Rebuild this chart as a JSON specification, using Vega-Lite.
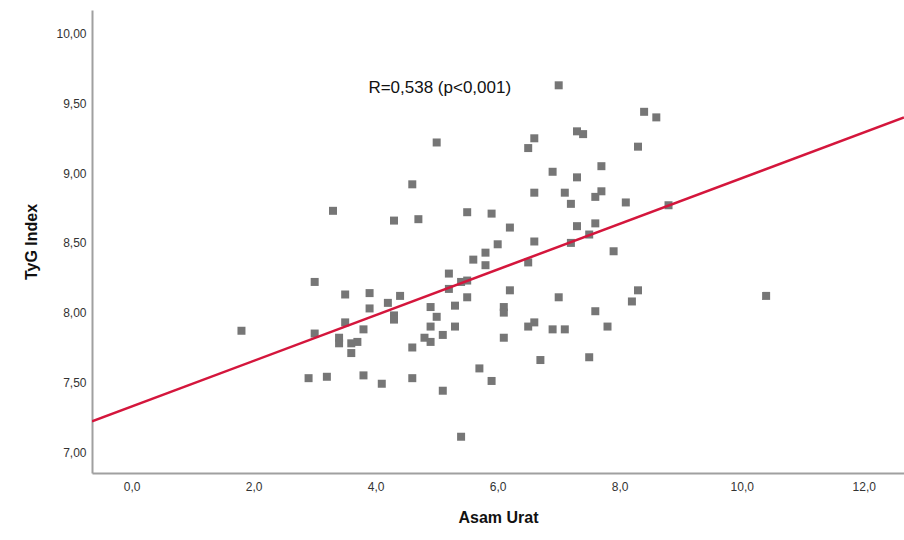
{
  "$schema": "https://vega.github.io/schema/vega-lite/v6.json",
  "autosize": {"type": "none"},
  "padding": {"left": 92, "top": 10, "right": 0, "bottom": 67},
  "width": 812,
  "height": 463,
  "background": "white",
  "config": {
    "font": "Liberation Sans",
    "view": {"stroke": null},
    "axis": {"grid": false, "ticks": false, "domainColor": "#a0a0a0", "domainWidth": 2, "labelColor": "#333333", "labelFontSize": 12, "titleFontSize": 16, "titleFontWeight": "bold", "titleColor": "#111111"}
  },
  "datasets": {
    "pts": [
      {"x": 1.8, "y": 7.87}, {"x": 2.9, "y": 7.53}, {"x": 3.2, "y": 7.54}, {"x": 3.0, "y": 8.22}, {"x": 3.0, "y": 7.85},
      {"x": 3.3, "y": 8.73}, {"x": 3.4, "y": 7.82}, {"x": 3.4, "y": 7.78}, {"x": 3.5, "y": 8.13}, {"x": 3.5, "y": 7.93},
      {"x": 3.6, "y": 7.78}, {"x": 3.7, "y": 7.79}, {"x": 3.6, "y": 7.71}, {"x": 3.8, "y": 7.88}, {"x": 3.8, "y": 7.55},
      {"x": 3.9, "y": 8.14}, {"x": 3.9, "y": 8.03}, {"x": 4.1, "y": 7.49}, {"x": 4.2, "y": 8.07}, {"x": 4.3, "y": 7.98},
      {"x": 4.3, "y": 7.95}, {"x": 4.3, "y": 8.66}, {"x": 4.4, "y": 8.12}, {"x": 4.6, "y": 8.92}, {"x": 4.6, "y": 7.75},
      {"x": 4.6, "y": 7.53}, {"x": 4.7, "y": 8.67}, {"x": 4.8, "y": 7.82}, {"x": 4.9, "y": 8.04}, {"x": 4.9, "y": 7.9},
      {"x": 4.9, "y": 7.79}, {"x": 5.0, "y": 9.22}, {"x": 5.0, "y": 7.97}, {"x": 5.1, "y": 7.84}, {"x": 5.1, "y": 7.44},
      {"x": 5.2, "y": 8.28}, {"x": 5.2, "y": 8.17}, {"x": 5.3, "y": 8.05}, {"x": 5.3, "y": 7.9}, {"x": 5.4, "y": 8.22},
      {"x": 5.5, "y": 8.23}, {"x": 5.5, "y": 8.11}, {"x": 5.4, "y": 7.11}, {"x": 5.5, "y": 8.72}, {"x": 5.6, "y": 8.38},
      {"x": 5.7, "y": 7.6}, {"x": 5.8, "y": 8.43}, {"x": 5.8, "y": 8.34}, {"x": 5.9, "y": 8.71}, {"x": 5.9, "y": 7.51},
      {"x": 6.0, "y": 8.49}, {"x": 6.2, "y": 8.61}, {"x": 6.2, "y": 8.16}, {"x": 6.1, "y": 8.04}, {"x": 6.1, "y": 8.0},
      {"x": 6.1, "y": 7.82}, {"x": 6.5, "y": 7.9}, {"x": 6.5, "y": 9.18}, {"x": 6.5, "y": 8.36}, {"x": 6.6, "y": 9.25},
      {"x": 6.6, "y": 8.86}, {"x": 6.6, "y": 8.51}, {"x": 6.6, "y": 7.93}, {"x": 6.7, "y": 7.66}, {"x": 6.9, "y": 9.01},
      {"x": 6.9, "y": 7.88}, {"x": 7.0, "y": 9.63}, {"x": 7.0, "y": 8.11}, {"x": 7.1, "y": 8.86}, {"x": 7.1, "y": 7.88},
      {"x": 7.2, "y": 8.78}, {"x": 7.2, "y": 8.5}, {"x": 7.3, "y": 9.3}, {"x": 7.4, "y": 9.28}, {"x": 7.3, "y": 8.97},
      {"x": 7.3, "y": 8.62}, {"x": 7.5, "y": 8.56}, {"x": 7.5, "y": 7.68}, {"x": 7.6, "y": 8.83}, {"x": 7.6, "y": 8.64},
      {"x": 7.6, "y": 8.01}, {"x": 7.7, "y": 9.05}, {"x": 7.7, "y": 8.87}, {"x": 7.8, "y": 7.9}, {"x": 7.9, "y": 8.44},
      {"x": 8.1, "y": 8.79}, {"x": 8.2, "y": 8.08}, {"x": 8.3, "y": 8.16}, {"x": 8.3, "y": 9.19}, {"x": 8.4, "y": 9.44},
      {"x": 8.6, "y": 9.4}, {"x": 8.8, "y": 8.77}, {"x": 10.4, "y": 8.12}
    ],
    "fit": [{"x": -0.65, "y": 7.22}, {"x": 12.66, "y": 9.4}],
    "note": [{"x": 5.05, "y": 9.61, "label": "R=0,538 (p<0,001)"}]
  },
  "layer": [
    {
      "data": {"name": "pts"},
      "mark": {"type": "square", "size": 64, "color": "#767676", "opacity": 1},
      "encoding": {
        "x": {"field": "x", "type": "quantitative", "scale": {"domain": [-0.65, 12.66], "nice": false, "zero": false},
          "axis": {"title": "Asam Urat", "values": [0, 2, 4, 6, 8, 10, 12], "labelExpr": "replace(format(datum.value, '.1f'), '.', ',')", "labelPadding": 8, "titlePadding": 17}},
        "y": {"field": "y", "type": "quantitative", "scale": {"domain": [6.85, 10.17], "nice": false, "zero": false},
          "axis": {"title": "TyG Index", "values": [7, 7.5, 8, 8.5, 9, 9.5, 10], "labelExpr": "replace(format(datum.value, '.2f'), '.', ',')", "labelPadding": 6, "titlePadding": 16}}
      }
    },
    {
      "data": {"name": "fit"},
      "mark": {"type": "line", "color": "#d4163c", "strokeWidth": 2.5, "clip": true},
      "encoding": {
        "x": {"field": "x", "type": "quantitative"},
        "y": {"field": "y", "type": "quantitative"}
      }
    },
    {
      "data": {"name": "note"},
      "mark": {"type": "text", "fontSize": 17, "color": "#111111", "align": "center", "baseline": "middle"},
      "encoding": {
        "x": {"field": "x", "type": "quantitative"},
        "y": {"field": "y", "type": "quantitative"},
        "text": {"field": "label"}
      }
    }
  ]
}
